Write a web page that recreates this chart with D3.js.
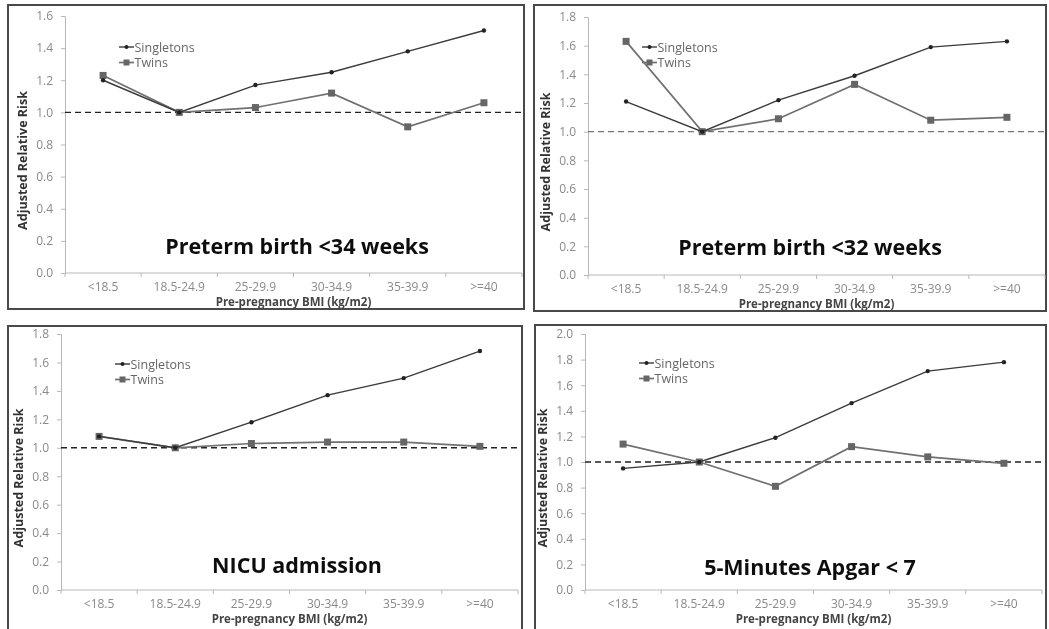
<!DOCTYPE html>
<html>
<head>
<meta charset="utf-8">
<script src="https://cdn.jsdelivr.net/npm/d3@7"></script>
<style>
  html, body { margin: 0; padding: 0; background: #fff; }
  svg { display: block; }
  text { font-family: "Open Sans", "DejaVu Sans", sans-serif; }
</style>
</head>
<body>
<svg id="chart" width="1049" height="629"></svg>
<script>
// Pre-pregnancy BMI groups shared by all four panels
const categories = ["<18.5", "18.5-24.9", "25-29.9", "30-34.9", "35-39.9", ">=40"];
const seriesNames = ["Singletons", "Twins"];

// Adjusted relative risk by outcome
const preterm34Singletons = [1.20, 1.00, 1.17, 1.25, 1.38, 1.51];
const preterm34Twins      = [1.23, 1.00, 1.03, 1.12, 0.91, 1.06];
const preterm32Singletons = [1.21, 1.00, 1.22, 1.39, 1.59, 1.63];
const preterm32Twins      = [1.63, 1.00, 1.09, 1.33, 1.08, 1.10];
const nicuSingletons      = [1.08, 1.00, 1.18, 1.37, 1.49, 1.68];
const nicuTwins           = [1.08, 1.00, 1.03, 1.04, 1.04, 1.01];
const apgarSingletons     = [0.95, 1.00, 1.19, 1.46, 1.71, 1.78];
const apgarTwins          = [1.14, 1.00, 0.81, 1.12, 1.04, 0.99];

const panelTitles = ["Preterm birth <34 weeks", "Preterm birth <32 weeks", "NICU admission", "5-Minutes Apgar < 7"];
const yMaxima = [1.6, 1.8, 1.8, 2.0];
const referenceValue = 1.0;

const xTitle = "Pre-pregnancy BMI (kg/m2)";
const yTitle = "Adjusted Relative Risk";

// Frame and plot-area geometry for each panel
const layouts = [
  { frame: [8, 5, 516, 304],   plot: { left: 65,  right: 522,  top: 16,  bottom: 273 }, titleY: 254 },
  { frame: [534, 5, 512, 306], plot: { left: 588, right: 1045, top: 17,  bottom: 275 }, titleY: 255 },
  { frame: [8, 326, 514, 320], plot: { left: 61,  right: 518,  top: 334, bottom: 590 }, titleY: 573 },
  { frame: [535, 325, 511, 320], plot: { left: 585, right: 1042, top: 334, bottom: 590 }, titleY: 575 }
];

const panels = [
  [preterm34Singletons, preterm34Twins],
  [preterm32Singletons, preterm32Twins],
  [nicuSingletons, nicuTwins],
  [apgarSingletons, apgarTwins]
];

const svg = d3.select("#chart");
const defs = svg.append("defs");
defs.append("filter").attr("id", "soft")
  .append("feGaussianBlur").attr("stdDeviation", 0.4);

const root = svg.append("g").attr("filter", "url(#soft)");

const seriesStyle = [
  { stroke: "#3a3a3a", width: 1.4, marker: "dot" },
  { stroke: "#707070", width: 1.7, marker: "square" }
];

panels.forEach((seriesList, i) => {
  const L = layouts[i];
  const p = L.plot;
  const g = root.append("g");

  // Panel frame
  g.append("rect")
    .attr("x", L.frame[0]).attr("y", L.frame[1])
    .attr("width", L.frame[2]).attr("height", L.frame[3])
    .attr("fill", "#fff").attr("stroke", "#4a4a4a").attr("stroke-width", 2);

  const x = d3.scaleBand().domain(categories).range([p.left, p.right]).paddingInner(0).paddingOuter(0);
  const y = d3.scaleLinear().domain([0, yMaxima[i]]).range([p.bottom, p.top]);
  const cx = c => x(c) + x.bandwidth() / 2;

  // Y axis
  const yAxis = d3.axisLeft(y)
    .tickValues(d3.range(0, yMaxima[i] + 0.001, 0.2))
    .tickFormat(d3.format(".1f"))
    .tickSize(4).tickPadding(8);
  const ya = g.append("g").attr("transform", `translate(${p.left},0)`).call(yAxis);
  ya.select(".domain").attr("stroke", "#b8b8b8");
  ya.selectAll(".tick line").attr("stroke", "#b8b8b8");
  ya.selectAll(".tick text").attr("fill", "#8a8a8a").attr("font-size", 12);

  // X axis with ticks on category boundaries
  const xa = g.append("g").attr("transform", `translate(0,${p.bottom})`);
  xa.append("line").attr("x1", p.left).attr("x2", p.right)
    .attr("stroke", "#b8b8b8");
  xa.selectAll("line.bound").data(d3.range(categories.length + 1)).join("line")
    .attr("class", "bound")
    .attr("x1", k => p.left + k * x.bandwidth())
    .attr("x2", k => p.left + k * x.bandwidth())
    .attr("y1", 0).attr("y2", 4)
    .attr("stroke", "#b8b8b8");
  xa.selectAll("text").data(categories).join("text")
    .attr("x", d => cx(d)).attr("y", 18)
    .attr("text-anchor", "middle")
    .attr("fill", "#8a8a8a").attr("font-size", 12)
    .text(d => d);

  // Axis titles
  g.append("text")
    .attr("x", (p.left + p.right) / 2).attr("y", p.bottom + 33)
    .attr("text-anchor", "middle").attr("font-weight", "bold")
    .attr("font-size", 11.5).attr("fill", "#444")
    .text(xTitle);
  g.append("text")
    .attr("transform", `translate(${p.left - 38},${(p.top + p.bottom) / 2 + 16}) rotate(-90)`)
    .attr("text-anchor", "middle").attr("font-weight", "bold")
    .attr("font-size", 12.5).attr("fill", "#333")
    .text(yTitle);

  // Reference line at RR = 1
  g.append("line")
    .attr("x1", p.left).attr("x2", p.right)
    .attr("y1", y(referenceValue)).attr("y2", y(referenceValue))
    .attr("stroke", i === 1 ? "#777" : "#222").attr("stroke-width", 1.4)
    .attr("stroke-dasharray", "6,4");

  // Series lines and markers (twins first so singletons sit on top)
  [1, 0].forEach(s => {
    const vals = seriesList[s];
    const st = seriesStyle[s];
    const line = d3.line().x((d, k) => cx(categories[k])).y(d => y(d));
    g.append("path").datum(vals)
      .attr("d", line).attr("fill", "none")
      .attr("stroke", st.stroke).attr("stroke-width", st.width);
    if (st.marker === "square") {
      g.selectAll(null).data(vals).join("rect")
        .attr("x", (d, k) => cx(categories[k]) - 3.5)
        .attr("y", d => y(d) - 3.5)
        .attr("width", 7).attr("height", 7)
        .attr("fill", "#666");
    } else {
      g.selectAll(null).data(vals).join("circle")
        .attr("cx", (d, k) => cx(categories[k]))
        .attr("cy", d => y(d))
        .attr("r", 2.2).attr("fill", "#222");
    }
  });

  // Legend
  const lx = p.left + 54;
  const ly = L.frame[1] + (i < 2 ? 42 : 38);
  seriesNames.forEach((name, s) => {
    const yy = ly + s * 15.5;
    const st = seriesStyle[s];
    g.append("line").attr("x1", lx).attr("x2", lx + 15)
      .attr("y1", yy).attr("y2", yy)
      .attr("stroke", st.stroke).attr("stroke-width", st.width);
    if (st.marker === "square") {
      g.append("rect").attr("x", lx + 4.5).attr("y", yy - 3).attr("width", 6).attr("height", 6).attr("fill", "#666");
    } else {
      g.append("circle").attr("cx", lx + 7.5).attr("cy", yy).attr("r", 2).attr("fill", "#222");
    }
    g.append("text").attr("x", lx + 15.5).attr("y", yy + 4.5)
      .attr("font-size", 12.5).attr("fill", "#666").text(name);
  });

  // Panel title
  g.append("text")
    .attr("x", i % 2 === 0 ? 297 : 810).attr("y", L.titleY)
    .attr("text-anchor", "middle").attr("font-weight", "bold")
    .attr("font-size", 21.5).attr("fill", "#111")
    .text(panelTitles[i]);
});
</script>
</body>
</html>
